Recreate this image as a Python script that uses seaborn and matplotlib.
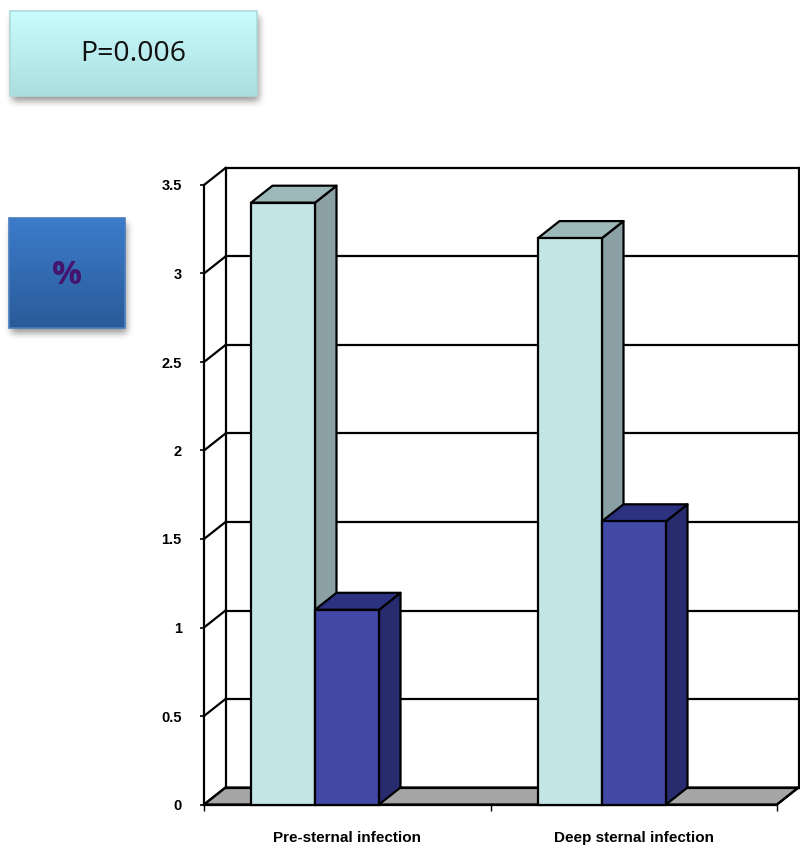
import numpy as np
import pandas as pd
import matplotlib
matplotlib.use("Agg")
import matplotlib.pyplot as plt
from matplotlib.patches import Polygon, Rectangle
from matplotlib.colors import to_rgb
import seaborn as sns

# ---- data ----
categories = ["Pre-sternal infection", "Deep sternal infection"]
series_a = [3.4, 3.2]
series_b = [1.1, 1.6]
y_ticks = [0, 0.5, 1, 1.5, 2, 2.5, 3, 3.5]
y_tick_labels = ["0", "0.5", "1", "1.5", "2", "2.5", "3", "3.5"]
p_text = "P=0.006"
unit_text = "%"

W, H = 800, 846
sns.set_theme(style="white")
plt.rcParams["font.family"] = ["Liberation Sans", "DejaVu Sans"]

fig = plt.figure(figsize=(W / 100, H / 100), dpi=100, facecolor="white")

# overlay for the two text boxes (pixel coordinates)
ov = fig.add_axes([0, 0, 1, 1], zorder=0)
ov.set_xlim(0, W)
ov.set_ylim(H, 0)
ov.axis("off")


def blur(a, r):
    k = np.ones(2 * r + 1) / (2 * r + 1)
    for _ in range(3):
        a = np.apply_along_axis(lambda m: np.convolve(m, k, mode="same"), 0, a)
        a = np.apply_along_axis(lambda m: np.convolve(m, k, mode="same"), 1, a)
    return a


def box(x0, y0, x1, y1, c_top, c_bot, edge):
    pad = 20
    sx0, sy0, sx1, sy1 = x0 - pad, y0 - pad, x1 + pad + 6, y1 + pad + 8
    mask = np.zeros((sy1 - sy0, sx1 - sx0))
    mask[y0 - sy0 + 5:y1 - sy0 + 5, x0 - sx0 + 2:x1 - sx0 + 2] = 1
    mask = blur(mask, 3)
    rgba = np.zeros(mask.shape + (4,))
    rgba[..., 3] = mask * 0.42
    ov.imshow(rgba, extent=(sx0, sx1, sy1, sy0), aspect="auto", zorder=1, interpolation="bilinear")
    t = np.linspace(0, 1, y1 - y0)[:, None, None]
    grad = np.array(to_rgb(c_top))[None, None, :] * (1 - t) + np.array(to_rgb(c_bot))[None, None, :] * t
    ov.imshow(grad, extent=(x0, x1, y1, y0), aspect="auto", zorder=2)
    ov.add_patch(Rectangle((x0, y0), x1 - x0, y1 - y0, fill=False, ec=edge, lw=1.2, zorder=3))
    ov.set_xlim(0, W)
    ov.set_ylim(H, 0)


box(10, 11, 257, 96, "#C9FDFD", "#ABDEDF", "#AEDADB")
box(9, 218, 125, 328, "#3C7CCB", "#2A5B99", "#4A7DBE")
ov.text(133.5, 54, p_text, ha="center", va="center", fontsize=20.5, family=["Open Sans"], color="#111111", zorder=4)
ov.text(67, 275, unit_text, ha="center", va="center", fontsize=24, fontweight="bold", family=["Open Sans"],
        color="#44146E", zorder=4)

# main axes: front plane of the 3-D box
left, right, top, bottom = 204, 777, 185, 804.5
ax = fig.add_axes([left / W, 1 - bottom / H, (right - left) / W, (bottom - top) / H], zorder=1)
ax.patch.set_alpha(0)

df = pd.DataFrame({
    "category": categories * 2,
    "value": series_a + series_b,
    "group": ["A"] * 2 + ["B"] * 2,
})
sns.barplot(data=df, x="category", y="value", hue="group", palette=["#C4E5E6", "#4148A6"],
            width=0.446, gap=0, dodge=True, saturation=1, edgecolor="black", linewidth=1.6,
            legend=False, zorder=4, ax=ax, clip_on=False)

cat_px = 287.0
ax.set_xlim((left - 315) / cat_px, (right - 315) / cat_px)
ax.set_ylim(0, 3.5)
px_y = (bottom - top) / 3.5
dx = 21.5 / cat_px
dy = 17.0 / px_y
x0, x1 = ax.get_xlim()
LW = 1.6
line = dict(color="black", lw=LW, clip_on=False, solid_capstyle="projecting")

# floor
ax.add_patch(Polygon([(x0, 0), (x1, 0), (x1 + dx, dy), (x0 + dx, dy)], closed=True, fc="#A6A6A6",
                     ec="black", lw=LW, clip_on=False, zorder=1))
# walls and gridlines
for v in y_ticks:
    ax.plot([x0 + dx, x1 + dx], [v + dy, v + dy], zorder=1.5, **line)
    ax.plot([x0, x0 + dx], [v, v + dy], zorder=1.5, **line)
ax.plot([x0 + dx, x0 + dx], [dy, 3.5 + dy], zorder=1.5, **line)
ax.plot([x1 + dx, x1 + dx], [dy, 3.5 + dy], zorder=1.5, **line)
ax.plot([x1, x1 + dx], [0, dy], zorder=1.5, **line)

# 3-D faces of each bar, derived from the bars seaborn drew
side_cols = ["#8AA0A5", "#282C6F"]
top_cols = ["#9DB8B9", "#2C3180"]
for i, (cont, sc, tc) in enumerate(zip(ax.containers, side_cols, top_cols)):
    for bar in cont:
        bx, bw, bh = bar.get_x(), bar.get_width(), bar.get_height()
        ax.add_patch(Polygon([(bx + bw, 0), (bx + bw + dx, dy), (bx + bw + dx, bh + dy), (bx + bw, bh)],
                             closed=True, fc=sc, ec="black", lw=LW, clip_on=False, zorder=3 + i * 0.1,
                             joinstyle="round"))
        ax.add_patch(Polygon([(bx, bh), (bx + dx, bh + dy), (bx + bw + dx, bh + dy), (bx + bw, bh)],
                             closed=True, fc=tc, ec="black", lw=LW, clip_on=False, zorder=3 + i * 0.1,
                             joinstyle="round"))
    for bar in cont:
        bar.set_clip_on(False)

# axes, ticks, labels
for s in ["top", "right"]:
    ax.spines[s].set_visible(False)
for s in ["left", "bottom"]:
    ax.spines[s].set_color("black")
    ax.spines[s].set_linewidth(LW)
    ax.spines[s].set_zorder(2)

ax.set_xlabel("")
ax.set_ylabel("")
ax.set_yticks(y_ticks)
ax.set_yticklabels(y_tick_labels, fontsize=10.5, fontweight="bold", color="black")
ax.tick_params(axis="y", left=True, length=3, width=1.2, pad=13, color="black")
mid = (x0 + x1) / 2
ax.set_xticks([x0, mid, x1])
ax.set_xticklabels(["", "", ""])
ax.tick_params(axis="x", which="major", bottom=True, length=4, width=1, color="black")
ax.set_xticks([(x0 + mid) / 2, (mid + x1) / 2], labels=categories, minor=True,
              fontsize=11, fontweight="bold", color="black")
ax.tick_params(axis="x", which="minor", bottom=False, length=0, pad=19)

fig.savefig("out.png", dpi=100)
